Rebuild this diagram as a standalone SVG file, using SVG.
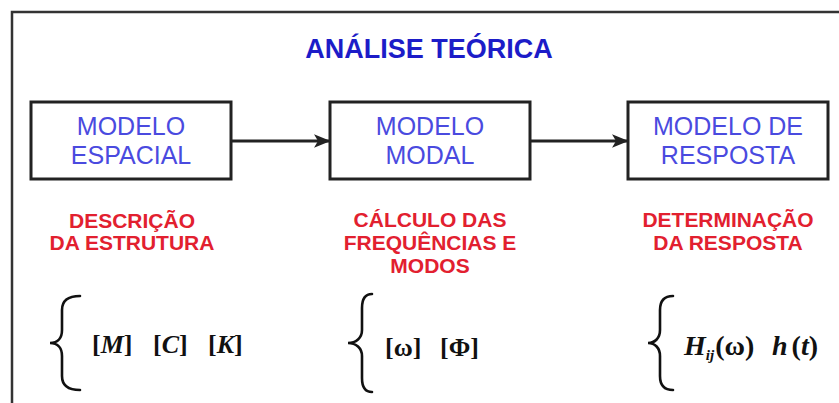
<svg xmlns="http://www.w3.org/2000/svg" width="839" height="403" viewBox="0 0 839 403">
<style>
.box{fill:#fff;stroke:#222;stroke-width:3}
.bt{font-family:"Liberation Sans",Arial,sans-serif;font-size:25px;fill:#4a4adf;text-anchor:middle}
.rt{font-family:"Liberation Sans",Arial,sans-serif;font-size:21px;font-weight:bold;fill:#e2202f;text-anchor:middle}
.title{font-family:"Liberation Sans",Arial,sans-serif;font-size:27px;font-weight:bold;fill:#1c1cc8;text-anchor:middle}
.f{font-family:"Liberation Serif","Times New Roman",serif;font-size:26px;fill:#111}
.f28{font-size:28px}
.sub{font-size:15px}
.fb{font-weight:bold}
.it{font-style:italic}
.brace{fill:none;stroke:#111;stroke-width:2.6;stroke-linecap:round}
.conn{stroke:#222;stroke-width:3;fill:none}
</style>
<defs>
<marker id="ah" viewBox="0 0 12 10" refX="11" refY="5" markerWidth="5.5" markerHeight="5" orient="auto" markerUnits="strokeWidth">
<path d="M0,0 L12,5 L0,10 L3,5 z" fill="#222"/>
</marker>
</defs>
<rect width="839" height="403" fill="#fff"/>
<rect x="12" y="12" width="900" height="500" fill="none" stroke="#333" stroke-width="2.5"/>
<text class="title" x="429" y="58">ANÁLISE TEÓRICA</text>

<g id="connectors">
<line class="conn" x1="232" y1="141" x2="329" y2="141" marker-end="url(#ah)"/>
<line class="conn" x1="531" y1="141" x2="627" y2="141" marker-end="url(#ah)"/>
</g>

<g id="modelo-espacial">
<rect class="box" x="31" y="102" width="200" height="77"/>
<text class="bt" x="131" y="135">MODELO</text>
<text class="bt" x="131" y="164">ESPACIAL</text>
</g>
<g id="modelo-modal">
<rect class="box" x="330" y="102" width="200" height="77"/>
<text class="bt" x="430" y="135">MODELO</text>
<text class="bt" x="430" y="164">MODAL</text>
</g>
<g id="modelo-resposta">
<rect class="box" x="628" y="102" width="200" height="77"/>
<text class="bt" x="728" y="135">MODELO DE</text>
<text class="bt" x="728" y="164">RESPOSTA</text>
</g>

<g id="desc-estrutura">
<text class="rt" x="132" y="228">DESCRIÇÃO</text>
<text class="rt" x="132" y="250">DA ESTRUTURA</text>
</g>
<g id="calc-freq">
<text class="rt" x="430" y="227">CÁLCULO DAS</text>
<text class="rt" x="430" y="250">FREQUÊNCIAS E</text>
<text class="rt" x="430" y="273">MODOS</text>
</g>
<g id="det-resposta">
<text class="rt" x="728" y="227" textLength="171" lengthAdjust="spacingAndGlyphs">DETERMINAÇÃO</text>
<text class="rt" x="728" y="250">DA RESPOSTA</text>
</g>

<g id="eq-espacial">
<path class="brace" d="M80,296 C69,296 62,300 62,310 L62,330 C62,338 58,343 50,343 C58,343 62,348 62,356 L62,376 C62,386 69,390 80,390"/>
<text class="f fb" x="92" y="353">[<tspan class="it">M</tspan>]</text>
<text class="f fb" x="153" y="353">[<tspan class="it">C</tspan>]</text>
<text class="f fb" x="208" y="353">[<tspan class="it">K</tspan>]</text>
</g>
<g id="eq-modal">
<path class="brace" d="M372,294 C366,294 362,298 362,308 L362,330 C362,338 356,343 348,343 C356,343 362,348 362,356 L362,378 C362,388 366,392 372,392"/>
<text class="f fb" x="385" y="356">[ω]</text>
<text class="f fb" x="440" y="356">[Φ]</text>
</g>
<g id="eq-resposta">
<path class="brace" d="M673,296 C665,296 660,300 660,310 L660,330 C660,338 655,343 648,343 C655,343 660,348 660,356 L660,376 C660,386 665,390 673,390"/>
<text class="f f28 fb" x="684" y="355"><tspan class="it">H</tspan><tspan class="it sub" dy="5">ij</tspan><tspan dy="-5" dx="1">(ω)</tspan></text>
<text class="f f28 fb" x="772" y="355"><tspan class="it">h</tspan><tspan dx="4">(</tspan><tspan class="it">t</tspan>)</text>
</g>
</svg>
